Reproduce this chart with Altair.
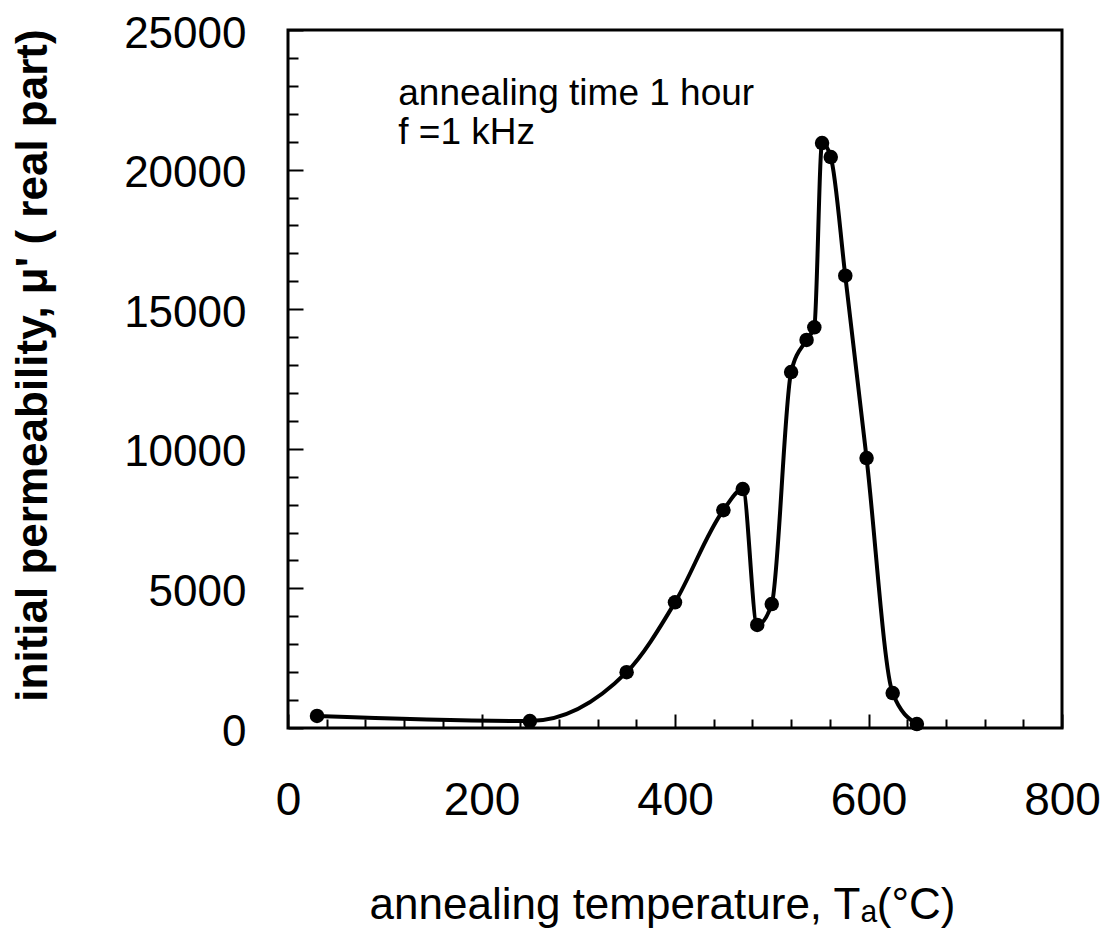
import altair as alt
import pandas as pd

# data
temperature = [30, 250, 350, 400, 450, 470, 485, 500, 520, 536, 544, 552, 561, 576, 598, 625, 650]
permeability = [430, 250, 2000, 4500, 7800, 8560, 3690, 4440, 12750, 13900, 14350, 20950, 20450, 16200, 9670, 1250, 140]

x_major = [0, 200, 400, 600, 800]
x_minor = [40, 80, 120, 160, 240, 280, 320, 360, 440, 480, 520, 560, 640, 680, 720, 760]
y_major = [0, 5000, 10000, 15000, 20000, 25000]
y_minor = [1000, 2000, 3000, 4000, 6000, 7000, 8000, 9000, 11000, 12000, 13000, 14000,
           16000, 17000, 18000, 19000, 21000, 22000, 23000, 24000]

notes = ["annealing time 1 hour", "f =1 kHz"]
note_x = [114, 114]
note_y = [22300, 20900]

df = pd.DataFrame({"T": temperature, "mu": permeability})
notes_df = pd.DataFrame({"text": notes, "T": note_x, "mu": note_y})

FONT = "Liberation Sans"

xscale = alt.Scale(domain=[0, 800], nice=False, zero=False)
yscale = alt.Scale(domain=[0, 25000], nice=False, zero=False)

x_main = alt.X("T:Q", scale=xscale, axis=alt.Axis(
    values=x_major, format="d", orient="bottom", offset=-14, tickSize=14, tickWidth=2,
    tickColor="black", domain=False, grid=False, labelFontSize=46, labelFont=FONT,
    labelColor="black", labelPadding=50, labelFlush=False,
    title="annealing temperature, Tₐ(°C)", titleFont=FONT, titleFontSize=44,
    titleFontWeight="normal", titleColor="black", titleX=374, titleY=204,
    titleAnchor="middle", titleAlign="center", titleBaseline="alphabetic"))
y_main = alt.Y("mu:Q", scale=yscale, axis=alt.Axis(
    values=y_major, format="d", orient="left", offset=-15, tickSize=15, tickWidth=2,
    tickColor="black", domain=False, grid=False, labelFontSize=44, labelFont=FONT,
    labelColor="black", labelPadding=42, labelFlush=False, labelOffset=4,
    title="initial permeability, μ' ( real part)", titleFont=FONT, titleFontSize=44,
    titleFontWeight="bold", titleColor="black", titleX=-270, titleY=335,
    titleAngle=-90, titleAlign="center", titleBaseline="middle"))

line = alt.Chart(df).mark_line(color="black", strokeWidth=4, interpolate="monotone").encode(
    x=x_main, y=y_main)
points = alt.Chart(df).mark_circle(color="black", size=210, opacity=1).encode(
    x=alt.X("T:Q", scale=xscale, axis=None), y=alt.Y("mu:Q", scale=yscale, axis=None))

minor = alt.Chart(df).mark_point(opacity=0).encode(
    x=alt.X("T:Q", scale=xscale, axis=alt.Axis(
        values=x_minor, orient="bottom", offset=-9, tickSize=9, tickWidth=2, tickColor="black",
        labels=False, domain=False, grid=False, title=None)),
    y=alt.Y("mu:Q", scale=yscale, axis=alt.Axis(
        values=y_minor, orient="left", offset=-10, tickSize=10, tickWidth=2, tickColor="black",
        labels=False, domain=False, grid=False, title=None)))

texts = alt.Chart(notes_df).mark_text(
    align="left", baseline="alphabetic", font=FONT, fontSize=37, color="black").encode(
    x=alt.X("T:Q", scale=xscale, axis=None), y=alt.Y("mu:Q", scale=yscale, axis=None),
    text="text:N")

chart = alt.layer(line, minor, points, texts).resolve_axis(
    x="independent", y="independent"
).properties(
    width=774, height=698,
    autosize=alt.AutoSizeParams(type="none"),
    padding={"left": 280, "top": 22, "right": 39, "bottom": 200},
    background="white",
).configure_view(stroke="black", strokeWidth=3)

chart.save("out.html", embed_options={"renderer": "svg", "actions": False})
